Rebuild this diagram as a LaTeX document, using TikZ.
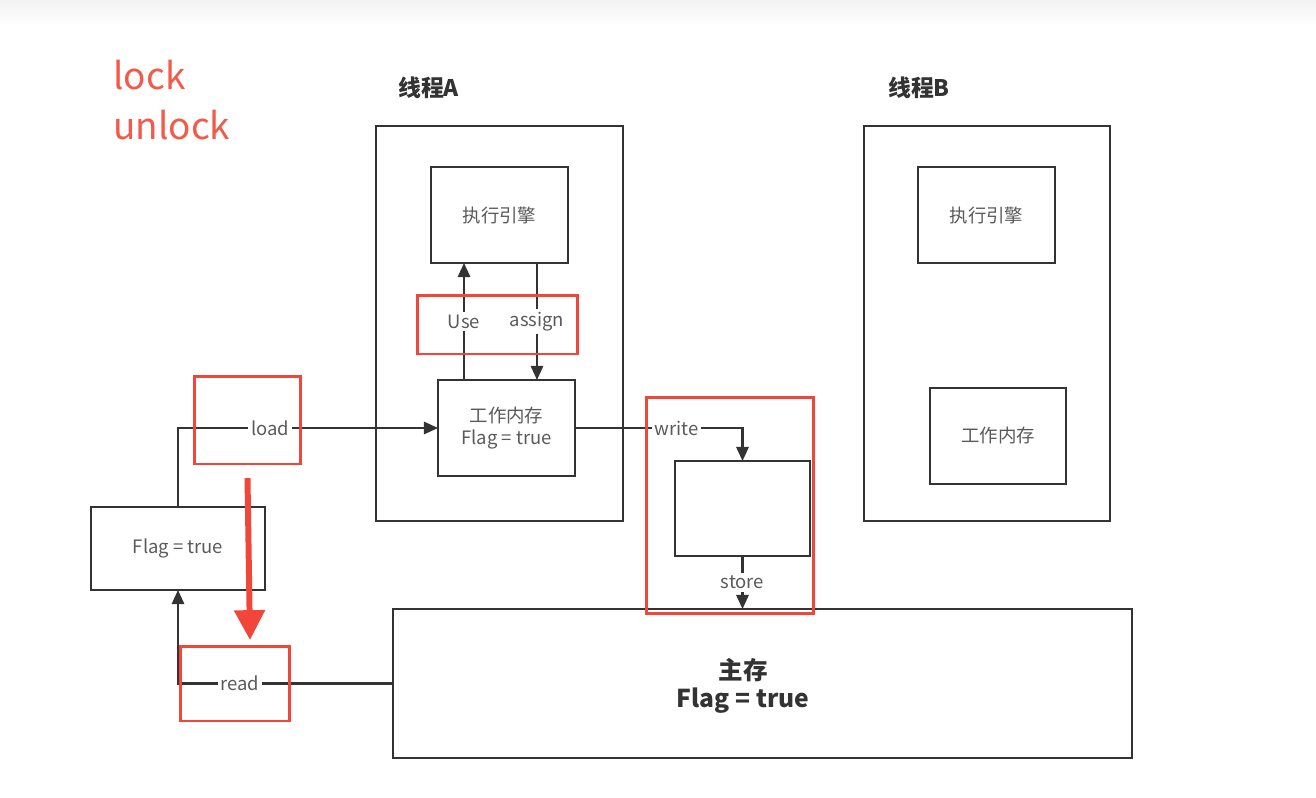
\documentclass[tikz,border=0pt]{standalone}
\usepackage{fontspec}
\setmainfont{Noto Sans CJK SC}
\usetikzlibrary{arrows.meta}
\definecolor{linegray}{HTML}{333333}
\definecolor{textgray}{HTML}{5A5A5A}
\definecolor{markred}{HTML}{F0473A}
\definecolor{notered}{HTML}{F25A4A}

\begin{document}
\begin{tikzpicture}
  [x=0.02cm,y=-0.02cm,
  thread/.style={rectangle,draw=linegray,line width=1.3pt,inner sep=0,
                  outer sep=0,minimum width=4.94cm,minimum height=7.9cm},
  unit/.style={rectangle,draw=linegray,line width=1.3pt,align=center,
                  text=textgray,font=\fontsize{10.5}{13}\selectfont,
                  inner sep=0,outer sep=0,minimum width=2.74cm,minimum height=1.92cm},
  mainmem/.style={rectangle,draw=linegray,line width=1.3pt,
                  inner sep=0,outer sep=0,minimum width=14.78cm,minimum height=2.98cm},
  maintext/.style={align=center,text=linegray,font=\fontsize{14}{16}\selectfont\bfseries},
  redmark/.style={rectangle,draw=markred,line width=1.7pt,inner sep=0,outer sep=0},
  title/.style={text=linegray,font=\fontsize{13}{15}\selectfont\bfseries,anchor=west},
  note/.style={text=notered,font=\fontsize{21}{24}\selectfont,anchor=base west,inner sep=0},
  lbl/.style={fill=white,text=textgray,font=\fontsize{10.5}{13}\selectfont,inner sep=1.5pt},
  conn/.style={draw=linegray,line width=1.2pt,-{Triangle[length=8pt,width=7pt]}},
  bigarrow/.style={draw=markred,line width=3.4pt,-{Triangle[length=17pt,width=17pt]}}
                  ]
  \useasboundingbox (0,0) rectangle (1316,798);
  \shade[top color=black!5,bottom color=white] (0,0) rectangle (1316,26);

  \node[note] (lock) at (113,89) {lock};
  \node[note] (unlock) at (113,139) {unlock};

  % thread A
  \node[title] (titleA) at (392,88) {线程A};
  \node[thread] (threadA) at (499.5,323.5) {};
  \node[unit] (engA) at (499.5,215) {执行引擎};
  \node[unit] (wmA) at (506.5,428) {工作内存\\Flag = true};

  % thread B
  \node[title] (titleB) at (882,88) {线程B};
  \node[thread,minimum width=4.92cm] (threadB) at (987,323.5) {};
  \node[unit] (engB) at (986.5,215) {执行引擎};
  \node[unit,minimum width=2.72cm] (wmB) at (998,436) {工作内存};

  \node[unit,minimum width=3.48cm,minimum height=1.66cm] (flag) at (178,548.5) {Flag = true};
  \node[unit,minimum width=2.7cm,minimum height=1.9cm] (store) at (742.5,508.5) {};
  \node[mainmem] (main) at (762.5,683.5) {};
  \node[maintext] (mainlbl) at (743,686) {主存\\Flag = true};

  \draw[conn] ([xshift=-0.85cm]wmA.north) to
    node[lbl] {Use} ([xshift=-0.85cm]wmA.north |- engA.south);
  \draw[conn] ([xshift=0.75cm]engA.south) to
    node[lbl] {assign} ([xshift=0.75cm]engA.south |- wmA.north);
  \draw[conn] (flag.north) |- node[lbl,pos=0.677] {load} (wmA.west);
  \draw[conn] (main.west) -| node[lbl,pos=0.356] {read} (flag.south);
  \draw[conn] (wmA.east) -| node[lbl,pos=0.304] {write} (store.north);
  \draw[conn] (store.south) to node[lbl] {store} (store.south |- main.north);

  % red marks
  \node[redmark,minimum width=2.14cm,minimum height=1.76cm] (loadmark) at (247.5,420) {};
  \node[redmark,minimum width=3.22cm,minimum height=1.18cm] (usemark) at (497.5,324.5) {};
  \node[redmark,minimum width=3.36cm,minimum height=4.34cm] (writemark) at (730,505.5) {};
  \node[redmark,minimum width=2.2cm,minimum height=1.5cm] (readmark) at (235,683.5) {};
  \draw[bigarrow] ([yshift=-0.28cm]loadmark.south) to ([xshift=0.3cm,yshift=0.12cm]readmark.north);
\end{tikzpicture}
\end{document}
